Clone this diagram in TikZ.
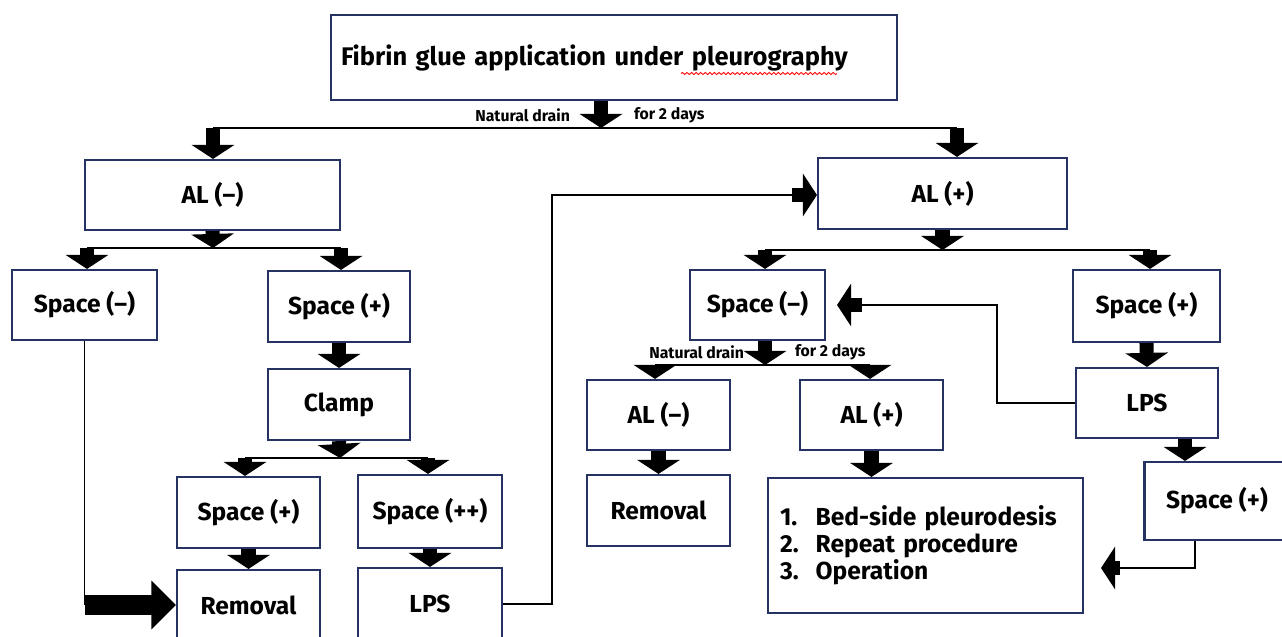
\documentclass[tikz,border=0pt]{standalone}
\usepackage{fontspec}
\setmainfont{Fira Sans}
\usetikzlibrary{arrows.meta,decorations.pathmorphing}

\definecolor{boxline}{RGB}{38,50,98}
\newlength\prew
\newlength\sqw

\begin{document}
\settowidth\prew{\bfseries\fontsize{14.5}{16}\selectfont Fibrin glue application under }
\settowidth\sqw{\bfseries\fontsize{14.5}{16}\selectfont pleurography}
\begin{tikzpicture}[x=0.02cm,y=-0.02cm,
		box/.style={draw=boxline,line width=1.2pt,inner sep=0pt,font=\bfseries\fontsize{14}{16}\selectfont},
		small/.style={box,minimum width=2.86cm,minimum height=1.42cm},
		lbl/.style={font=\bfseries\fontsize{9}{10}\selectfont,inner sep=1pt},
		conn/.style={line width=1.1pt},
		blk/.style={line width=8pt,-{Triangle[length=8pt,width=24pt]}},
		fat/.style={line width=11pt,-{Triangle[length=14pt,width=27pt]}}]
		\useasboundingbox (0,0) rectangle (1282,636);
		% boxes
		\node[box,minimum width=11.32cm,minimum height=1.7cm,text width=10.92cm,inner xsep=0.2cm,align=left,font=\bfseries\fontsize{14.5}{16}\selectfont] (top) at (614,57.5) {Fibrin glue application under pleurography};
		\node[box,minimum width=5.1cm,minimum height=1.4cm] (alneg) at (212.5,195) {AL (–)};
		\node[box,minimum width=4.98cm,minimum height=1.42cm] (alpos) at (942.5,193.5) {AL (+)};
		\node[small,minimum width=2.9cm,minimum height=1.4cm] (spnegL) at (84.5,305) {Space (–)};
		\node[small,minimum width=2.84cm] (spposL) at (339,306.5) {Space (+)};
		\node[small,minimum width=2.84cm] (clamp) at (339,404.5) {Clamp};
		\node[small] (spposL2) at (248.5,512.5) {Space (+)};
		\node[small,minimum width=2.88cm,minimum height=1.46cm] (spppL) at (430,511.5) {Space (++)};
		\node[small,minimum height=1.4cm] (remL) at (248.5,605) {Removal};
		\node[small,minimum width=2.88cm,minimum height=1.44cm] (lpsL) at (430,604) {LPS};
		\node[small,minimum width=2.7cm,minimum height=1.4cm] (spnegR) at (757.5,305) {Space (–)};
		\node[small,minimum width=2.94cm,minimum height=1.44cm] (spposR) at (1146.5,306) {Space (+)};
		\node[small,minimum width=2.84cm,minimum height=1.4cm] (lpsR) at (1147,403) {LPS};
		\node[small,minimum width=2.9cm,minimum height=1.56cm] (spposR2) at (1217,501) {Space (+)};
		\node[small,minimum height=1.4cm] (alnegR) at (658.5,415) {AL (–)};
		\node[small,minimum height=1.4cm] (alposR) at (871.5,415) {AL (+)};
		\node[small] (remR) at (658.5,510.5) {Removal};
		\node[box,minimum width=6.3cm,minimum height=2.7cm,text width=5.82cm,inner xsep=0.24cm,align=left,font=\bfseries\fontsize{14}{15.5}\selectfont] (opts) at (925.5,545.5) {\makebox[1.45em][l]{1.}Bed-side pleurodesis\\\makebox[1.45em][l]{2.}Repeat procedure\\\makebox[1.45em][l]{3.}Operation};
		% spell-check mark
		\draw[red,line width=0.5pt,decorate,decoration={snake,amplitude=0.6pt,segment length=2.6pt}] ([xshift=0.2cm+\prew,yshift=-0.32cm]top.west) -- ++(\sqw,0);
		% labels
		\node[lbl,anchor=east] (nd1) at (572,115) {Natural drain};
		\node[lbl,anchor=west] (fd1) at (632,115) {for 2 days};
		\node[lbl,anchor=east] (nd2) at (746,352) {Natural drain};
		\node[lbl,anchor=west] (fd2) at (793,352) {for 2 days};
		% first split
		\coordinate (j0) at (601,128);
		\coordinate (j0l) at (213,128);
		\coordinate (j0r) at (957,128);
		\draw[blk] (top.south -| j0) -- (j0);
		\draw[conn] (j0l) -- (j0r);
		\draw[blk] (j0l) -- (alneg.north -| j0l);
		\draw[blk] (j0r) -- (alpos.north -| j0r);
		% left branch
		\coordinate (j1) at (213,248);
		\coordinate (j1l) at (87,248);
		\coordinate (j1r) at (341,248);
		\draw[blk] (alneg.south) -- (j1);
		\draw[conn] (j1l) -- (j1r);
		\draw[blk] (j1l) -- (spnegL.north -| j1l);
		\draw[blk] (j1r) -- (spposL.north -| j1r);
		\draw[blk] (spposL.south) -- (clamp.north);
		\coordinate (j2) at (340,458);
		\coordinate (j2l) at (245,458);
		\coordinate (j2r) at (428,458);
		\draw[blk] (clamp.south) -- (j2);
		\draw[conn] (j2l) -- (j2r);
		\draw[blk] (j2l) -- (spposL2.north -| j2l);
		\draw[blk] (j2r) -- (spppL.north -| j2r);
		\draw[blk] (spposL2.south) -- (remL.north);
		\draw[blk] (spppL.south) -- (lpsL.north);
		\draw[conn] (spnegL.south) -- (spnegL.south |- remL.west) coordinate (c1);
		\draw[fat] (c1) -- (remL.west);
		\coordinate (c2) at (552,195);
		\coordinate (c3) at (792,195);
		\draw[conn] (lpsL.east) -| (c2) -- (c3);
		\draw[blk] (c3) -- (alpos.west |- c3);
		% right branch
		\coordinate (j3) at (950,250);
		\coordinate (j3l) at (765,250);
		\coordinate (j3r) at (1150,250);
		\draw[blk] (alpos.south) -- (alpos.south |- j3);
		\draw[conn] (j3l) -- (j3r);
		\draw[blk] (j3l) -- (spnegR.north -| j3l);
		\draw[blk] (j3r) -- (spposR.north -| j3r);
		\draw[blk] (spposR.south) -- (lpsR.north);
		\coordinate (c4) at (997,305);
		\coordinate (c5) at (862,305);
		\draw[conn] (lpsR.west) -| (c4) -- (c5);
		\draw[blk,shorten >=0.22cm] (c5) -- (spnegR.east);
		\coordinate (k1) at (1185,440);
		\draw[blk] (lpsR.south -| k1) -- (spposR2.north -| k1);
		\coordinate (k2) at (1195,568);
		\coordinate (c6) at (1120,568);
		\draw[conn] (spposR2.south -| k2) |- (c6);
		\draw[blk,shorten >=0.34cm] (c6) -- (opts.east |- c6);
		\coordinate (j4) at (765,365);
		\coordinate (j4l) at (655,365);
		\coordinate (j4r) at (870,365);
		\draw[blk] (spnegR.south -| j4) -- (j4);
		\draw[conn] (j4l) -- (j4r);
		\draw[blk] (j4l) -- (alnegR.north -| j4l);
		\draw[blk] (j4r) -- (alposR.north -| j4r);
		\draw[blk] (alnegR.south) -- (remR.north);
		\draw[blk] (alposR.south) -- (alposR.south |- opts.north);
	\end{tikzpicture}
\end{document}
